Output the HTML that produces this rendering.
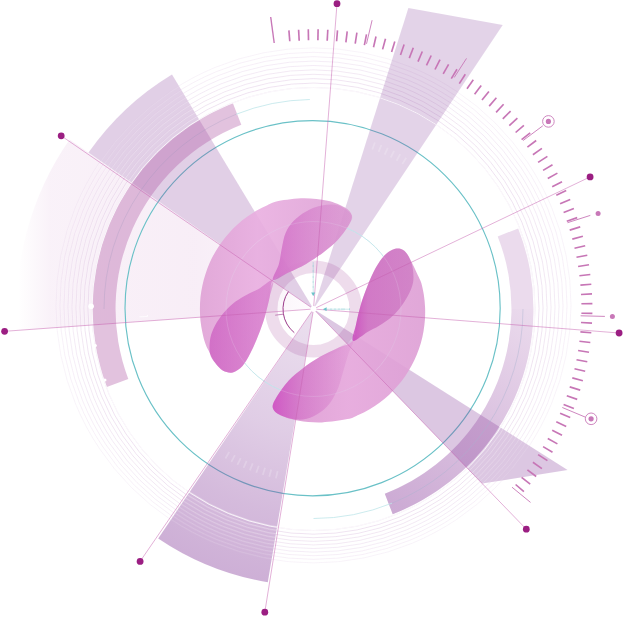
<!DOCTYPE html>
<html lang="en"><head><meta charset="utf-8"><title>Radial diagram</title>
<style>html,body{margin:0;padding:0;background:#fff}body{width:623px;height:617px;overflow:hidden}svg{display:block}</style>
</head><body>
<svg width="623" height="617" viewBox="0 0 623 617">
<defs>
<linearGradient id="gLeft" gradientUnits="userSpaceOnUse" x1="18" y1="0" x2="313" y2="0"><stop offset="0" stop-color="#c77ac0" stop-opacity="0"/><stop offset="0.11" stop-color="#c77ac0" stop-opacity="0.1"/><stop offset="0.6" stop-color="#c77ac0" stop-opacity="0.13"/><stop offset="0.85" stop-color="#c77ac0" stop-opacity="0.08"/><stop offset="1" stop-color="#c77ac0" stop-opacity="0.02"/></linearGradient>
<radialGradient id="gBottom" gradientUnits="userSpaceOnUse" cx="313.5" cy="309" r="277"><stop offset="0" stop-color="#8c46a0" stop-opacity="0.17"/><stop offset="0.45" stop-color="#8c46a0" stop-opacity="0.27"/><stop offset="0.75" stop-color="#8c46a0" stop-opacity="0.37"/><stop offset="1" stop-color="#8c46a0" stop-opacity="0.43"/></radialGradient>
<linearGradient id="gRBand" gradientUnits="userSpaceOnUse" x1="525" y1="300" x2="395" y2="505"><stop offset="0" stop-color="#8c46a0" stop-opacity="0"/><stop offset="0.5" stop-color="#8c46a0" stop-opacity="0.16"/><stop offset="1" stop-color="#8c46a0" stop-opacity="0.32"/></linearGradient>
<linearGradient id="gBlobL" gradientUnits="userSpaceOnUse" x1="-115" y1="0" x2="40" y2="0"><stop offset="0" stop-color="#dfa1d5"/><stop offset="0.38" stop-color="#e9aee0"/><stop offset="1" stop-color="#dca0d4"/></linearGradient>
<linearGradient id="gBlobR" gradientUnits="userSpaceOnUse" x1="45" y1="0" x2="-115" y2="0"><stop offset="0" stop-color="#d996cf"/><stop offset="0.5" stop-color="#e5a5db"/><stop offset="1" stop-color="#dd9ed4"/></linearGradient>
<linearGradient id="gA1" gradientUnits="userSpaceOnUse" x1="-42" y1="0" x2="40" y2="0"><stop offset="0" stop-color="#c648ba" stop-opacity="0.58"/><stop offset="0.4" stop-color="#c650ba" stop-opacity="0.38"/><stop offset="1" stop-color="#c658ba" stop-opacity="0.12"/></linearGradient>
<linearGradient id="gA2" gradientUnits="userSpaceOnUse" x1="-105" y1="0" x2="-40" y2="0"><stop offset="0" stop-color="#c648ba" stop-opacity="0.6"/><stop offset="1" stop-color="#c650ba" stop-opacity="0.38"/></linearGradient>
<linearGradient id="gB1" gradientUnits="userSpaceOnUse" x1="42" y1="0" x2="-42" y2="0"><stop offset="0" stop-color="#cc3cc0" stop-opacity="0.72"/><stop offset="0.35" stop-color="#c84cbc" stop-opacity="0.42"/><stop offset="1" stop-color="#c658ba" stop-opacity="0.1"/></linearGradient>
<linearGradient id="gB2" gradientUnits="userSpaceOnUse" x1="-40" y1="0" x2="-104" y2="0"><stop offset="0" stop-color="#c63ab9" stop-opacity="0.78"/><stop offset="0.25" stop-color="#bf4ab2" stop-opacity="0.52"/><stop offset="1" stop-color="#bc54b0" stop-opacity="0.42"/></linearGradient>
</defs>
<rect width="623" height="617" fill="#fff"/>
<path d="M313.5 309 L69.6 139.5 A297 297 0 0 0 17.3 330.4 Z" fill="url(#gLeft)"/>
<circle cx="312.6" cy="308.2" r="187.6" fill="none" stroke="#6ac1c7" stroke-width="1.15"/>
<g fill="#8c46a0">
<path d="M313.5 309 L172 74.4 A274 274 0 0 0 88.5 152.6 Z" fill-opacity="0.26"/>
<path d="M313.5 309 L567.6 470.1 L482 483.6 Z" fill-opacity="0.3"/>
</g>
<path d="M313.5 309 L158.2 538.4 A277 277 0 0 0 267.8 582.2 Z" fill="url(#gBottom)"/>
<g fill="none" stroke="#dfc6e3" stroke-width="0.6"><circle cx="313.5" cy="309.00" r="221.5" stroke-opacity="0.95"/><circle cx="313.5" cy="308.60" r="225.5" stroke-opacity="0.89"/><circle cx="313.5" cy="308.20" r="229.5" stroke-opacity="0.82"/><circle cx="313.5" cy="307.80" r="233.5" stroke-opacity="0.75"/><circle cx="313.5" cy="307.40" r="237.5" stroke-opacity="0.69"/><circle cx="313.5" cy="307.00" r="241.5" stroke-opacity="0.62"/><circle cx="313.5" cy="306.60" r="245.5" stroke-opacity="0.56"/><circle cx="313.5" cy="306.20" r="249.5" stroke-opacity="0.49"/><circle cx="313.5" cy="305.80" r="253.5" stroke-opacity="0.43"/><circle cx="313.5" cy="305.40" r="257.5" stroke-opacity="0.36"/></g>
<g fill="none" stroke="#fff" stroke-width="0.6"><circle cx="313.5" cy="309.00" r="220.8" stroke-opacity="0.52"/><circle cx="313.5" cy="308.60" r="224.8" stroke-opacity="0.49"/><circle cx="313.5" cy="308.20" r="228.8" stroke-opacity="0.45"/><circle cx="313.5" cy="307.80" r="232.8" stroke-opacity="0.42"/><circle cx="313.5" cy="307.40" r="236.8" stroke-opacity="0.38"/><circle cx="313.5" cy="307.00" r="240.8" stroke-opacity="0.34"/><circle cx="313.5" cy="306.60" r="244.8" stroke-opacity="0.31"/><circle cx="313.5" cy="306.20" r="248.8" stroke-opacity="0.27"/><circle cx="313.5" cy="305.80" r="252.8" stroke-opacity="0.24"/><circle cx="313.5" cy="305.40" r="256.9" stroke-opacity="0.20"/></g>
<path d="M313.5 309 L408.4 7.9 L502.7 25 Z" fill="#8c46a0" fill-opacity="0.24"/>
<path d="M232.9 103.2 A221 221 0 0 0 106.8 387.1 L128.3 379 A198 198 0 0 1 241.3 124.7 Z" fill="#b05aa6" fill-opacity="0.37"/>
<path d="M392.7 514.2 A220 220 0 0 0 518.2 228.4 L497.7 236.4 A198 198 0 0 1 384.8 493.7 Z" fill="#9a4aa4" fill-opacity="0.2"/>
<path d="M392.7 514.2 A220 220 0 0 0 533.5 309 L511.5 309 A198 198 0 0 1 384.8 493.7 Z" fill="url(#gRBand)"/>
<circle cx="313.5" cy="309" r="221.5" fill="none" stroke="#fff" stroke-width="0.9" stroke-opacity="0.9"/>
<circle cx="91.1" cy="306.3" r="2.8" fill="#fff"/><circle cx="95.3" cy="345.5" r="1.6" fill="#fff"/><circle cx="104.9" cy="380" r="1.6" fill="#fff"/>
<g stroke="#fff" stroke-width="1.8" stroke-opacity="0.2"><line x1="229.2" y1="452" x2="225.4" y2="458.5"/><line x1="234.9" y1="455.2" x2="231.4" y2="461.8"/><line x1="240.7" y1="458.2" x2="237.4" y2="464.9"/><line x1="246.6" y1="460.9" x2="243.6" y2="467.8"/><line x1="252.7" y1="463.4" x2="249.9" y2="470.4"/><line x1="258.8" y1="465.7" x2="256.3" y2="472.8"/><line x1="265" y1="467.7" x2="262.8" y2="474.9"/><line x1="271.2" y1="469.5" x2="269.3" y2="476.8"/><line x1="277.6" y1="471.1" x2="275.9" y2="478.4"/></g>
<g stroke="#fff" stroke-width="1.8" stroke-opacity="0.2"><line x1="402.3" y1="164.1" x2="406.2" y2="157.7"/><line x1="396.6" y1="160.7" x2="400.2" y2="154.1"/><line x1="390.7" y1="157.5" x2="394.1" y2="150.8"/><line x1="384.7" y1="154.6" x2="387.8" y2="147.8"/><line x1="378.6" y1="151.9" x2="381.4" y2="145"/><line x1="372.3" y1="149.5" x2="374.9" y2="142.5"/></g>
<path d="M139.5 316.9 L147.6 316.4 L147.5 315" fill="none" stroke="#fff" stroke-width="0.8" stroke-opacity="0.9"/>
<circle cx="313.5" cy="309" r="87.5" fill="none" stroke="#b4e0e6" stroke-width="0.9"/>
<path d="M309.8 99.5 A209.5 209.5 0 0 0 236 114.3" fill="none" stroke="#bfe6ea" stroke-width="0.8"/>
<path d="M313.5 518.5 A209.5 209.5 0 0 0 392 503.2" fill="none" stroke="#bfe6ea" stroke-width="0.8"/>
<path d="M236 114.3 A209.5 209.5 0 0 0 104 309" fill="none" stroke="#8f8fb8" stroke-width="0.6" stroke-opacity="0.4"/>
<path d="M392 503.2 A209.5 209.5 0 0 0 523 309" fill="none" stroke="#a9b3cf" stroke-width="0.6" stroke-opacity="0.7"/>
<circle cx="313.5" cy="309" r="42.2" fill="none" stroke="#aa50a0" stroke-opacity="0.2" stroke-width="12.4"/>
<path d="M288.5 291.5 A30.5 30.5 0 0 0 294.3 332.7" fill="none" stroke="#9b3a8a" stroke-width="1"/>
<path d="M275.2 315.2 L283.3 314.2" stroke="#b56aa8" stroke-width="0.8"/>
<g transform="translate(313.5 309)"><path d="M38.3 -93.7C38.9 -90.8 37.8 -88.2 35.4 -84C33 -79.8 27.9 -72.9 23.7 -68.4C19.5 -63.9 15.3 -60.7 10.1 -56.8C4.9 -52.9 -1.6 -48.5 -7.4 -45.1C-13.2 -41.7 -19.4 -39.1 -24.9 -36.4C-30.4 -33.7 -37.5 -32.9 -40.6 -28.9C-43.8 -24.9 -42.5 -18.1 -43.8 -12.1C-45.1 -6.1 -46.7 0.9 -48.6 7.4C-50.5 13.9 -53 20.7 -55.4 26.8C-57.8 33 -60.6 39.3 -63.2 44.3C-65.8 49.3 -68.1 53.8 -71 57C-73.9 60.2 -77.5 62.6 -80.7 63.4C-83.9 64.2 -87.5 63.3 -90.4 61.8C-93.3 60.2 -96 57 -98.2 54.1C-100.4 51.2 -102 47.4 -103.6 44.2C-105.2 41 -106.8 38.5 -108 35.1C-109.3 31.7 -110.3 27.5 -111.1 23.6C-111.9 19.7 -112.6 15.8 -113 11.9C-113.4 7.9 -113.6 4 -113.6 -0C-113.6 -4 -113.4 -7.9 -113 -11.9C-112.6 -15.8 -111.9 -19.7 -111.1 -23.6C-110.3 -27.5 -109.3 -31.3 -108 -35.1C-106.8 -38.9 -105.4 -42.6 -103.8 -46.2C-102.2 -49.8 -100.4 -53.4 -98.4 -56.8C-96.4 -60.2 -94.2 -63.6 -91.9 -66.8C-89.6 -70 -87.1 -73.1 -84.4 -76C-81.8 -79 -79 -81.8 -76 -84.4C-73.1 -87.1 -70 -89.6 -66.8 -91.9C-63.6 -94.2 -60.2 -96.4 -56.8 -98.4C-53.4 -100.4 -49.8 -102.2 -46.2 -103.8C-42.6 -105.4 -41.3 -106.9 -35.1 -108C-29 -109.2 -17.5 -110.8 -9.3 -110.8C-1.1 -110.8 7.2 -109.8 14 -108.3C20.8 -106.8 27.5 -103.9 31.5 -101.5C35.5 -99.1 37.6 -96.6 38.3 -93.7Z" fill="url(#gBlobL)" fill-opacity="0.9"/><path d="M38.3 -93.7C40 -90.5 37.8 -88.2 35.4 -84C33 -79.8 27.9 -72.9 23.7 -68.4C19.5 -63.9 15.3 -60.7 10.1 -56.8C4.9 -52.9 -1.6 -48.5 -7.4 -45.1C-13.2 -41.7 -19.4 -39.1 -24.9 -36.4C-30.4 -33.7 -39 -27.4 -40.6 -28.9C-42.2 -30.3 -36.1 -39.8 -34.6 -45.1C-33.1 -50.4 -32.8 -55.5 -31.7 -60.7C-30.6 -65.9 -29.8 -71.7 -27.8 -76.2C-25.9 -80.7 -23.4 -84.3 -20 -87.9C-16.6 -91.5 -12.1 -95 -7.4 -97.6C-2.7 -100.2 2.8 -102.4 8.2 -103.4C13.6 -104.4 20 -105.1 25 -103.5C30 -101.9 36.6 -97 38.3 -93.7Z" fill="url(#gA1)"/><path d="M-40.6 -28.9C-38.7 -27.6 -42.5 -18.1 -43.8 -12.1C-45.1 -6.1 -46.7 0.9 -48.6 7.4C-50.5 13.9 -53 20.7 -55.4 26.8C-57.8 33 -60.6 39.3 -63.2 44.3C-65.8 49.3 -68.1 53.8 -71 57C-73.9 60.2 -77.5 62.6 -80.7 63.4C-83.9 64.2 -87.5 63.3 -90.4 61.8C-93.3 60.2 -96 57 -98.2 54.1C-100.4 51.2 -102.8 48.4 -103.6 44.2C-104.4 40 -104 33.5 -103.1 28.8C-102.2 24.1 -100.3 20.2 -98.2 16.1C-96.1 12.1 -93.3 8.1 -90.4 4.5C-87.5 0.9 -84.3 -2.4 -80.7 -5.3C-77.1 -8.2 -73.2 -10.6 -69 -13C-64.8 -15.4 -60.1 -17.2 -55.4 -19.8C-50.7 -22.4 -42.5 -30.2 -40.6 -28.9Z" fill="url(#gA2)"/></g>
<g transform="translate(312.7 312.2) rotate(180) scale(0.99)"><path d="M40.3 -96.7C41 -93.7 39.3 -90.6 36.6 -86C33.9 -81.4 28.6 -73.9 24.2 -69C19.8 -64.1 15.4 -60.8 10.1 -56.8C4.8 -52.8 -1.6 -48.5 -7.4 -45.1C-13.2 -41.7 -19.4 -39.1 -24.9 -36.4C-30.4 -33.7 -37.5 -32.9 -40.6 -28.9C-43.8 -24.9 -42.5 -18.1 -43.8 -12.1C-45.1 -6.1 -46.7 0.9 -48.6 7.4C-50.5 13.9 -52.9 20.7 -55.4 26.8C-57.9 33 -60.6 39.3 -63.4 44.3C-66.2 49.3 -69.4 53.9 -72.2 57C-75 60.1 -78 61.8 -80.5 63C-83 64.2 -85.2 64.7 -87.5 64.3C-89.8 63.9 -92.2 62.5 -94 60.6C-95.8 58.7 -97.2 55.6 -98.6 53C-100 50.4 -101.3 47.8 -102.6 45.2C-103.9 42.6 -105 39.9 -106.2 37.3C-107.4 34.7 -108.7 32.7 -109.7 29.4C-110.7 26.1 -111.6 21.4 -112.3 17.4C-112.9 13.3 -113.3 9.2 -113.5 5.1C-113.7 1 -113.6 -3.1 -113.4 -7.2C-113.1 -11.3 -112.6 -15.4 -111.9 -19.4C-111.2 -23.5 -110.3 -27.5 -109.2 -31.4C-108 -35.4 -106.7 -39.3 -105.1 -43.1C-103.6 -46.9 -101.8 -50.6 -99.8 -54.2C-97.9 -57.8 -95.7 -61.3 -93.4 -64.7C-91 -68.1 -88.5 -71.3 -85.8 -74.4C-83.1 -77.5 -80.3 -80.5 -77.3 -83.3C-74.3 -86.1 -71.1 -88.7 -67.8 -91.1C-64.5 -93.6 -61.1 -95.9 -57.5 -98C-54 -100 -50.3 -101.9 -46.6 -103.6C-42.9 -105.3 -41.3 -106.8 -35.1 -108C-28.9 -109.3 -17.5 -111 -9.3 -111.3C-1.1 -111.6 7 -110.8 14 -109.6C21 -108.4 28.1 -106.2 32.5 -104C36.9 -101.8 39.6 -99.7 40.3 -96.7Z" fill="url(#gBlobR)" fill-opacity="0.9"/><path d="M40.3 -96.7C41 -93.7 39.3 -90.6 36.6 -86C33.9 -81.4 28.6 -73.9 24.2 -69C19.8 -64.1 15.4 -60.8 10.1 -56.8C4.8 -52.8 -1.6 -48.5 -7.4 -45.1C-13.2 -41.7 -19.4 -39.1 -24.9 -36.4C-30.4 -33.7 -38.8 -27.8 -40.6 -28.9C-42.4 -30 -37.6 -37.2 -35.9 -42.8C-34.1 -48.4 -32 -56.1 -30.1 -62.3C-28.2 -68.5 -26.9 -74.3 -24.3 -79.8C-21.7 -85.3 -18.4 -91.1 -14.5 -95.3C-10.6 -99.5 -5.8 -102.8 -0.9 -105C3.9 -107.2 9 -108.7 14.6 -108.5C20.2 -108.3 28.2 -106 32.5 -104C36.8 -102 39.6 -99.7 40.3 -96.7Z" fill="url(#gB1)"/><path d="M-40.6 -28.9C-38.7 -27.6 -42.5 -18.1 -43.8 -12.1C-45.1 -6.1 -46.7 0.9 -48.6 7.4C-50.5 13.9 -52.9 20.7 -55.4 26.8C-57.9 33 -60.6 39.3 -63.4 44.3C-66.2 49.3 -69.4 53.9 -72.2 57C-75 60.1 -78 61.8 -80.5 63C-83 64.2 -85.2 64.7 -87.5 64.3C-89.8 63.9 -92.2 62.5 -94 60.6C-95.8 58.7 -97.4 55.9 -98.6 53C-99.8 50.1 -100.7 47.3 -101.2 43.5C-101.7 39.7 -102.2 34.5 -101.4 30C-100.6 25.5 -98.5 20.9 -96.2 16.5C-93.9 12.1 -90.5 7.2 -87.6 3.5C-84.6 -0.2 -81.9 -2.9 -78.5 -5.8C-75.1 -8.7 -70.8 -11.2 -67 -13.6C-63.1 -16 -59.8 -17.4 -55.4 -20C-51 -22.6 -42.5 -30.2 -40.6 -28.9Z" fill="url(#gB2)"/></g>
<circle cx="313.5" cy="309" r="87.5" fill="none" stroke="#fff" stroke-opacity="0.22" stroke-width="0.7"/>
<g stroke="#c55fb0" stroke-width="0.9" stroke-opacity="0.55">
<line x1="313.5" y1="309" x2="337" y2="3.7"/>
<line x1="313.5" y1="309" x2="61.2" y2="135.8"/>
<line x1="313.5" y1="309" x2="4.6" y2="331.3"/>
<line x1="313.5" y1="309" x2="140.1" y2="561.4"/>
<line x1="313.5" y1="309" x2="264.8" y2="612.2"/>
<line x1="313.5" y1="309" x2="526.3" y2="529.2"/>
<line x1="313.5" y1="309" x2="619.1" y2="333"/>
<line x1="313.5" y1="309" x2="590.1" y2="176.9"/>
</g>
<g fill="#9b1e82">
<circle cx="337" cy="3.7" r="3.4"/>
<circle cx="61.2" cy="135.8" r="3.4"/>
<circle cx="4.6" cy="331.3" r="3.4"/>
<circle cx="140.1" cy="561.4" r="3.4"/>
<circle cx="264.8" cy="612.2" r="3.4"/>
<circle cx="526.3" cy="529.2" r="3.4"/>
<circle cx="619.1" cy="333" r="3.4"/>
<circle cx="590.1" cy="176.9" r="3.4"/>
</g>
<circle cx="313.5" cy="309" r="3" fill="#fff"/>
<g stroke="#c776b6" stroke-width="1.65">
<line x1="515.6" y1="484.5" x2="523.9" y2="491.7"/>
<line x1="521.6" y1="477.3" x2="530.2" y2="484.2"/>
<line x1="527.4" y1="469.9" x2="536.2" y2="476.5"/>
<line x1="532.9" y1="462.3" x2="541.9" y2="468.6"/>
<line x1="538.1" y1="454.6" x2="547.4" y2="460.6"/>
<line x1="543.1" y1="446.6" x2="552.5" y2="452.3"/>
<line x1="547.8" y1="438.5" x2="557.4" y2="443.9"/>
<line x1="552.2" y1="430.3" x2="562" y2="435.3"/>
<line x1="556.3" y1="421.8" x2="566.2" y2="426.5"/>
<line x1="560.1" y1="413.3" x2="570.2" y2="417.6"/>
<line x1="563.6" y1="404.6" x2="573.9" y2="408.6"/>
<line x1="566.8" y1="395.8" x2="577.2" y2="399.4"/>
<line x1="569.7" y1="386.9" x2="580.2" y2="390.1"/>
<line x1="572.3" y1="377.9" x2="582.9" y2="380.8"/>
<line x1="574.5" y1="368.8" x2="585.2" y2="371.3"/>
<line x1="576.5" y1="359.7" x2="587.3" y2="361.8"/>
<line x1="578.1" y1="350.5" x2="589" y2="352.2"/>
<line x1="579.4" y1="341.2" x2="590.3" y2="342.5"/>
<line x1="580.4" y1="331.9" x2="591.3" y2="332.8"/>
<line x1="581" y1="322.5" x2="592" y2="323.1"/>
<line x1="581.4" y1="313.2" x2="592.4" y2="313.4"/>
<line x1="581.4" y1="303.8" x2="592.4" y2="303.6"/>
<line x1="581" y1="294.5" x2="592" y2="293.9"/>
<line x1="580.4" y1="285.1" x2="591.3" y2="284.2"/>
<line x1="579.4" y1="275.8" x2="590.3" y2="274.5"/>
<line x1="578.1" y1="266.5" x2="589" y2="264.8"/>
<line x1="576.5" y1="257.3" x2="587.3" y2="255.2"/>
<line x1="574.5" y1="248.2" x2="585.2" y2="245.7"/>
<line x1="572.3" y1="239.1" x2="582.9" y2="236.2"/>
<line x1="569.7" y1="230.1" x2="580.2" y2="226.9"/>
<line x1="566.8" y1="221.2" x2="577.2" y2="217.6"/>
<line x1="563.6" y1="212.4" x2="573.9" y2="208.4"/>
<line x1="560.1" y1="203.7" x2="570.2" y2="199.4"/>
<line x1="556.3" y1="195.2" x2="566.2" y2="190.5"/>
<line x1="552.2" y1="186.7" x2="562" y2="181.7"/>
<line x1="547.8" y1="178.5" x2="557.4" y2="173.1"/>
<line x1="543.1" y1="170.4" x2="552.5" y2="164.7"/>
<line x1="538.1" y1="162.4" x2="547.4" y2="156.4"/>
<line x1="532.9" y1="154.7" x2="541.9" y2="148.4"/>
<line x1="527.4" y1="147.1" x2="536.2" y2="140.5"/>
<line x1="521.6" y1="139.7" x2="530.2" y2="132.8"/>
<line x1="515.6" y1="132.5" x2="523.9" y2="125.3"/>
<line x1="509.3" y1="125.6" x2="517.4" y2="118.1"/>
<line x1="502.8" y1="118.9" x2="510.6" y2="111.1"/>
<line x1="496.1" y1="112.4" x2="503.6" y2="104.3"/>
<line x1="489.2" y1="106.1" x2="496.4" y2="97.8"/>
<line x1="482" y1="100.1" x2="488.9" y2="91.5"/>
<line x1="474.6" y1="94.3" x2="481.2" y2="85.5"/>
<line x1="467" y1="88.8" x2="473.3" y2="79.8"/>
<line x1="459.3" y1="83.6" x2="465.3" y2="74.3"/>
<line x1="451.3" y1="78.6" x2="457" y2="69.2"/>
<line x1="443.2" y1="73.9" x2="448.6" y2="64.3"/>
<line x1="435" y1="69.5" x2="440" y2="59.7"/>
<line x1="426.5" y1="65.4" x2="431.2" y2="55.5"/>
<line x1="418" y1="61.6" x2="422.3" y2="51.5"/>
<line x1="409.3" y1="58.1" x2="413.3" y2="47.8"/>
<line x1="400.5" y1="54.9" x2="404.1" y2="44.5"/>
<line x1="391.6" y1="52" x2="394.8" y2="41.5"/>
<line x1="382.6" y1="49.4" x2="385.5" y2="38.8"/>
<line x1="373.5" y1="47.2" x2="376" y2="36.5"/>
<line x1="364.4" y1="45.2" x2="366.5" y2="34.4"/>
<line x1="355.2" y1="43.6" x2="356.9" y2="32.7"/>
<line x1="345.9" y1="42.3" x2="347.2" y2="31.4"/>
<line x1="336.6" y1="41.3" x2="337.5" y2="30.4"/>
<line x1="327.2" y1="40.7" x2="327.8" y2="29.7"/>
<line x1="317.9" y1="40.3" x2="318.1" y2="29.3"/>
<line x1="308.5" y1="40.3" x2="308.3" y2="29.3"/>
<line x1="299.2" y1="40.7" x2="298.6" y2="29.7"/>
<line x1="289.8" y1="41.3" x2="288.9" y2="30.4"/>
</g>
<g stroke="#c878b8" stroke-width="0.9" fill="none">
<path d="M270.7 17 L274.2 43" stroke-width="1.4"/>
<path d="M372.1 20.2 L366.5 43.8"/>
<path d="M466.5 58.4 L454.2 77.5"/>
<path d="M523.1 140.5 L542.8 125.8"/>
<path d="M567.5 222.7 L590.3 215.4"/>
<path d="M580.6 315.8 L604.9 316.4"/>
<path d="M562.3 407.5 L585 417"/>
<path d="M512 487.2 L530.5 502.4"/>
<circle cx="548.4" cy="121.4" r="5.8"/><circle cx="591.1" cy="418.8" r="5.8"/>
</g>
<g fill="#c878b8"><circle cx="548.4" cy="121.4" r="2.6"/><circle cx="591.1" cy="418.8" r="2.6"/><circle cx="598.1" cy="213.4" r="2.5"/><circle cx="612.4" cy="316.4" r="2.5"/></g>
<g stroke="#7cc9cf" stroke-width="0.5" stroke-opacity="0.8" fill="#6cc3c9">
<line x1="313.2" y1="262" x2="313.2" y2="293"/><path d="M311.2 292.4 L315.2 292.4 L313.2 296.3 Z" stroke="none"/>
<line x1="326" y1="309.2" x2="350" y2="309.2"/><path d="M326.6 307.3 L326.6 311.1 L322.8 309.2 Z" stroke="none"/>
<line x1="312.4" y1="266" x2="314" y2="266"/>
<line x1="312.4" y1="271" x2="314" y2="271"/>
<line x1="312.4" y1="277" x2="314" y2="277"/>
<line x1="312.4" y1="282" x2="314" y2="282"/>
<line x1="312.4" y1="287" x2="314" y2="287"/>
<line x1="331" y1="308.2" x2="331" y2="310.2"/>
<line x1="335" y1="308.2" x2="335" y2="310.2"/>
<line x1="339" y1="308.2" x2="339" y2="310.2"/>
<line x1="342" y1="308.2" x2="342" y2="310.2"/>
<line x1="344" y1="308.2" x2="344" y2="310.2"/>
<line x1="349.5" y1="308.2" x2="349.5" y2="310.2"/>
</g>
</svg>
</body></html>
